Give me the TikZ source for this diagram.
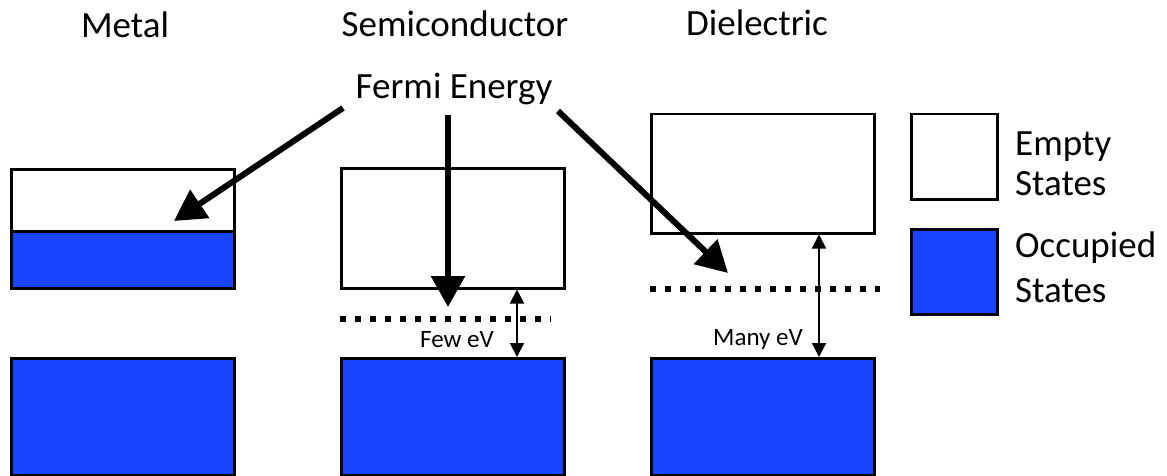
\documentclass[tikz,border=0pt]{standalone}
\usepackage{fontspec}
\setmainfont{Carlito}
\usetikzlibrary{arrows.meta}
\definecolor{occblue}{RGB}{24,68,255}

\newcommand*{\bandw}{223pt}

\begin{document}
\begin{tikzpicture}
[
	x=1pt,
	y=-1pt,
	band/.style={rectangle,draw,line width=2.5pt,inner sep=0pt,anchor=north west,minimum width=\bandw},
	emptyband/.style={band,fill=white},
	occband/.style={band,fill=occblue},
	keybox/.style={rectangle,draw,line width=2.5pt,inner sep=0pt,anchor=north west,minimum width=86pt,minimum height=85pt},
	lbl/.style={font=\fontsize{37}{44}\selectfont,anchor=base,inner sep=0pt},
	keylbl/.style={lbl,anchor=base west},
	small/.style={font=\fontsize{25}{30}\selectfont,anchor=base,inner sep=0pt},
	fermiarrow/.style={line width=6pt,-{Triangle[width=33pt,length=31pt]}},
	gaparrow/.style={line width=2pt,{Triangle[width=14pt,length=14pt]}-{Triangle[width=14pt,length=14pt]}},
	fermiline/.style={line width=6pt,dash pattern=on 6pt off 9pt}
]

	\useasboundingbox (0,0) rectangle (1167,476);

	% titles
	\node[lbl] (metal) at (125,38) {Metal};
	\node[lbl] (semi) at (455,37) {Semiconductor};
	\node[lbl] (diel) at (757,36) {Dielectric};
	\node[lbl] (fermi) at (454,99) {Fermi Energy};

	% metal
	\node[emptyband,minimum height=62pt] (metalCB) at (10,168) {};
	\node[occband,minimum height=57pt] (metalVB) at (10,230) {};
	\node[occband,minimum height=117pt] (metalLow) at (10,357) {};

	% semiconductor
	\node[emptyband,minimum height=120pt] (semiCB) at (340,167) {};
	\node[occband,minimum height=117pt] (semiVB) at (340,357) {};
	\coordinate (semiEF) at (340,319);
	\coordinate (semiEFend) at (551,319);
	\draw[fermiline] (semiEF) -- (semiEFend);
	\coordinate (semigap) at (517,0);
	\draw[gaparrow] (semiCB.south -| semigap) -- (semiVB.north -| semigap);
	\node[small] (few) at (457,347) {Few eV};

	% dielectric
	\node[emptyband,minimum height=119pt] (dielCB) at (650,113) {};
	\node[occband,minimum height=117pt] (dielVB) at (650,357) {};
	\coordinate (dielEF) at (650,289);
	\coordinate (dielEFend) at (880,289);
	\draw[fermiline] (dielEF) -- (dielEFend);
	\coordinate (dielgap) at (819,0);
	\draw[gaparrow] (dielCB.south -| dielgap) -- (dielVB.north -| dielgap);
	\node[small] (many) at (758,345) {Many eV};

	% fermi arrows
	\coordinate (fA) at (343,108);
	\coordinate (fB) at (448,115);
	\coordinate (fC) at (558,111);
	\coordinate (metalEF) at (174,221);
	\coordinate (semiTip) at (448,307);
	\coordinate (dielTip) at (728,273);
	\draw[fermiarrow] (fA) -- (metalEF);
	\draw[fermiarrow] (fB) -- (semiTip);
	\draw[fermiarrow] (fC) -- (dielTip);

	% key
	\node[keybox,fill=white] (keyempty) at (910,113) {};
	\node[keybox,fill=occblue] (keyocc) at (910,228) {};
	\node[keylbl] (emptyA) at (1015,155) {Empty};
	\node[keylbl] (emptyB) at (1015,195) {States};
	\node[keylbl] (occA) at (1015,257) {Occupied};
	\node[keylbl] (occB) at (1015,302) {States};

\end{tikzpicture}
\end{document}
